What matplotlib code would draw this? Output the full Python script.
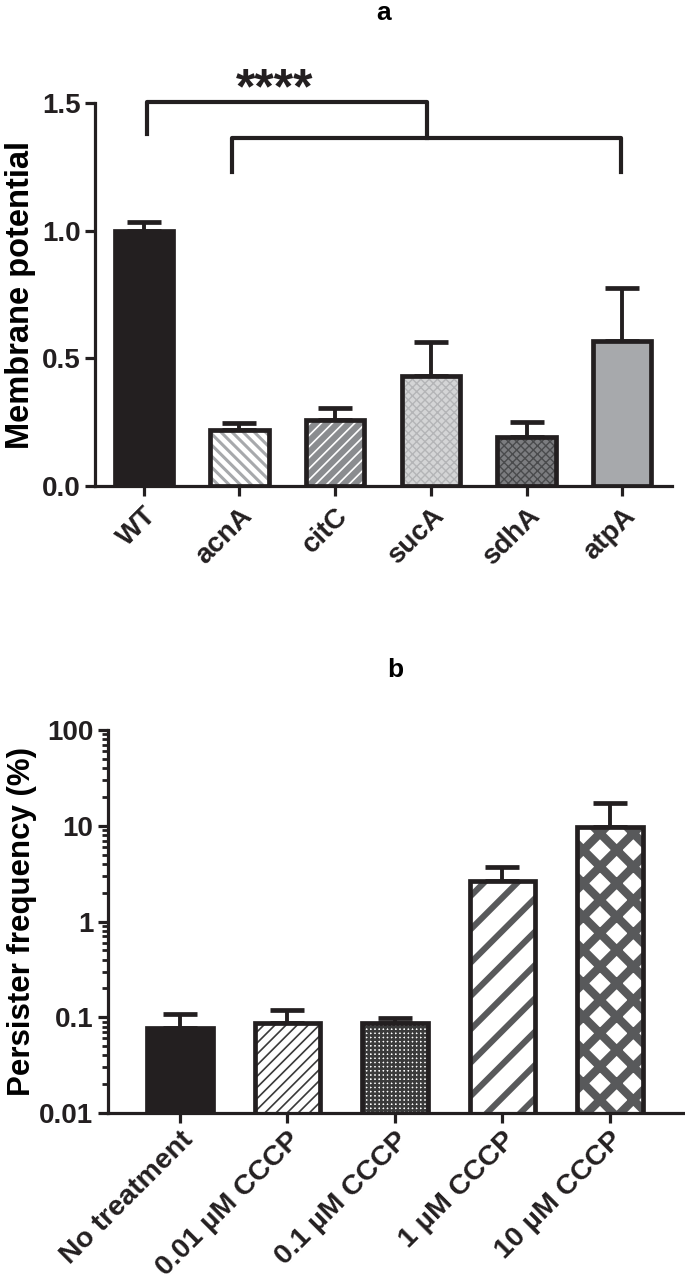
import numpy as np
import matplotlib
matplotlib.use('Agg')
import matplotlib.pyplot as plt

plt.rcParams['font.family'] = ['Liberation Sans', 'DejaVu Sans']
plt.rcParams['font.weight'] = 'bold'

# Panel a data
a_labels = ['WT', 'acnA', 'citC', 'sucA', 'sdhA', 'atpA']
a_means = [1.0, 0.219, 0.258, 0.43, 0.193, 0.568]
a_err = [0.035, 0.026, 0.046, 0.133, 0.059, 0.209]

# Panel b data
b_labels = ['No treatment', '0.01 µM CCCP', '0.1 µM CCCP', '1 µM CCCP', '10 µM CCCP']
b_means = [0.0776, 0.0874, 0.088, 2.64, 9.6]
b_err = [0.031, 0.033, 0.0105, 1.03, 7.6]

INK = '#231f20'

# (face, hatch, hatch colour, hatch linewidth)
a_styles = [
    (INK, None, INK, 1.0),
    ('white', '\\\\\\', '#a7a9ac', 2.2),
    ('#8a8c8f', '///', 'white', 1.2),
    ('#d4d5d6', 'xxxx', '#b4b5b7', 1.0),
    ('#7c7d80', 'xxxx', '#4a4b4d', 1.0),
    ('#a7a9ac', None, INK, 1.0),
]
b_styles = [
    (INK, None, INK, 1.0),
    ('white', '///', '#3a3a3a', 1.2),
    ('white', '++++', '#3a3a3a', 1.8),
    ('white', '/', '#58595b', 4.4),
    ('white', 'x', '#58595b', 6.0),
]


def draw_bars(ax, x, means, err, styles, width, lw):
    for xi, m, st in zip(x, means, styles):
        face, hatch, hcol, hlw = st
        with plt.rc_context({'hatch.linewidth': hlw}):
            b = ax.bar(xi, m, width=width, color=face, edgecolor=hcol,
                       hatch=hatch, linewidth=0, zorder=2)
        for p in b:
            if hasattr(p, 'set_hatch_linewidth'):
                p.set_hatch_linewidth(hlw)
        ax.bar(xi, m, width=width, fill=False, edgecolor=INK,
               linewidth=lw, zorder=3)
    ax.errorbar(x, means, yerr=[np.zeros(len(means)), err], fmt='none',
                ecolor=INK, elinewidth=2.8, capsize=12, capthick=3.4, zorder=1)


fig = plt.figure(figsize=(6.85, 12.83), dpi=100)

# ---- panel a
ax = fig.add_axes([0.1387, 0.6212, 0.8423, 0.2985])
xa = np.arange(len(a_labels))
draw_bars(ax, xa, a_means, a_err, a_styles, 0.61, 3.4)
ax.set_xlim(-0.51, 5.52)
ax.set_ylim(0, 1.5)
ax.set_yticks([0, 0.5, 1.0, 1.5])
ax.set_yticklabels(['0.0', '0.5', '1.0', '1.5'])
ax.set_xticks(xa)
ax.set_xticklabels(a_labels, rotation=45, ha='right', rotation_mode='anchor')
ax.set_ylabel('Membrane potential', fontsize=23.5, fontweight='bold', labelpad=4)
ax.set_title('a', fontsize=19, fontweight='bold', pad=60)

# significance brackets
x2l, x2r = 0.92, 4.99
xm = (x2l + x2r) / 2
ax.plot([0.03, 0.03, xm, xm], [1.38, 1.505, 1.505, 1.363], color=INK, lw=3,
        clip_on=False, solid_joinstyle='round')
ax.plot([x2l, x2l, x2r, x2r], [1.23, 1.363, 1.363, 1.23], color=INK, lw=3,
        clip_on=False, solid_joinstyle='round')
ax.text(1.37, 1.497, '****', ha='center', va='baseline', fontsize=36,
        fontweight='bold', color=INK)

# ---- panel b
bx = fig.add_axes([0.1577, 0.1325, 0.8393, 0.2985])
bx.set_yscale('log')
xb = np.arange(len(b_labels))
draw_bars(bx, xb, b_means, b_err, b_styles, 0.61, 3.4)
bx.set_xlim(-0.67, 4.68)
bx.set_ylim(0.01, 100)
bx.set_yticks([0.01, 0.1, 1, 10, 100])
bx.set_yticklabels(['0.01', '0.1', '1', '10', '100'])
bx.set_xticks(xb)
bx.set_xticklabels(b_labels, rotation=45, ha='right', rotation_mode='anchor')
bx.set_ylabel('Persister frequency (%)', fontsize=22.5, fontweight='bold', labelpad=2)
bx.set_title('b', fontsize=19, fontweight='bold', pad=38)

for a in (ax, bx):
    for s in ('top', 'right'):
        a.spines[s].set_visible(False)
    for s in ('left', 'bottom'):
        a.spines[s].set_linewidth(2.3)
        a.spines[s].set_color(INK)
    a.tick_params(axis='both', which='major', length=7, width=2.3, color=INK,
                  labelsize=20, labelcolor=INK)
    for lab in a.get_xticklabels() + a.get_yticklabels():
        lab.set_fontweight('bold')
ax.tick_params(axis='x', pad=5, labelsize=20)
bx.tick_params(axis='x', pad=3, labelsize=20.5)
bx.tick_params(axis='y', which='minor', length=4, width=2, color=INK)

fig.savefig('out.png', dpi=100)
